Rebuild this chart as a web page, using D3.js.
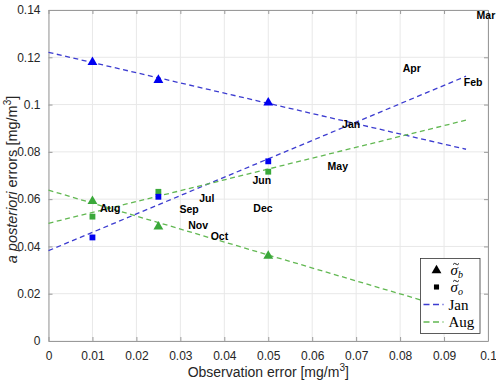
<!DOCTYPE html>
<html>
<head>
<meta charset="utf-8">
<script src="https://cdn.jsdelivr.net/npm/d3@7"></script>
<style>
  body { margin: 0; background: #fff; }
  svg { display: block; }
</style>
</head>
<body>
<svg></svg>
<script>
const width = 496,
      height = 381,
      margin = {top: 10, right: 8, bottom: 40, left: 48.5};

// observation errors used in the experiments
const obsErrors = [0.01, 0.025, 0.05];

// a posteriori errors
const janSigmaB = [0.1184, 0.1108, 0.1012];
const janSigmaO = [0.0438, 0.0610, 0.0760];
const augSigmaB = [0.0596, 0.0488, 0.0364];
const augSigmaO = [0.0526, 0.0631, 0.0716];

// dashed trend lines [x0, y0, x1, y1]
const janLineB = [0, 0.1221, 0.095, 0.0811];
const janLineO = [0, 0.0382, 0.095, 0.1120];
const augLineB = [0, 0.0638, 0.095, 0.0117];
const augLineO = [0, 0.0498, 0.095, 0.0934];

// month labels at (x, y)
const months = ['Mar', 'Apr', 'Feb', 'Jan', 'May', 'Jun', 'Dec', 'Jul', 'Sep', 'Aug', 'Nov', 'Oct'];
const monthX = [0.0974, 0.0806, 0.0945, 0.0668, 0.0635, 0.0464, 0.0466, 0.0343, 0.0298, 0.0117, 0.0318, 0.0369];
const monthY = [0.1379, 0.1153, 0.1092, 0.0917, 0.0737, 0.0681, 0.0561, 0.0603, 0.0557, 0.0562, 0.0490, 0.0441];

const xTicks = [0, 0.01, 0.02, 0.03, 0.04, 0.05, 0.06, 0.07, 0.08, 0.09, 0.1];
const yTicks = [0, 0.02, 0.04, 0.06, 0.08, 0.1, 0.12, 0.14];

const blue = '#0000f0', blueLine = '#3c3cd0',
      green = '#3aa83a', greenLine = '#62b852';

const svg = d3.select('svg')
  .attr('width', width)
  .attr('height', height);

const x = d3.scaleLinear().domain([0, 0.1]).range([margin.left, width - margin.right]);
const y = d3.scaleLinear().domain([0, 0.14]).range([height - margin.bottom, margin.top]);

const fmt = d => d === 0 ? '0' : String(+d.toFixed(3));

// grid
svg.append('g')
  .selectAll('line')
  .data(xTicks)
  .join('line')
  .attr('x1', d => x(d)).attr('x2', d => x(d))
  .attr('y1', y(0)).attr('y2', y(0.14))
  .attr('stroke', '#e8e8e8');

svg.append('g')
  .selectAll('line')
  .data(yTicks)
  .join('line')
  .attr('x1', x(0)).attr('x2', x(0.1))
  .attr('y1', d => y(d)).attr('y2', d => y(d))
  .attr('stroke', '#e8e8e8');

// axes with inner ticks, box on all sides
const axisStyle = g => {
  g.select('.domain').attr('stroke', '#9a9a9a');
  g.selectAll('.tick line').attr('stroke', '#9a9a9a');
  g.selectAll('.tick text')
    .attr('fill', '#262626')
    .style('font-family', 'Liberation Sans, Arial, sans-serif')
    .style('font-size', '12px');
};

svg.append('g')
  .attr('transform', `translate(0,${y(0)})`)
  .call(d3.axisBottom(x).tickValues(xTicks).tickFormat(fmt).tickSizeInner(-4).tickSizeOuter(0).tickPadding(10))
  .call(axisStyle);

svg.append('g')
  .attr('transform', `translate(0,${y(0.14)})`)
  .call(d3.axisTop(x).tickValues(xTicks).tickFormat('').tickSizeInner(-4).tickSizeOuter(0))
  .call(axisStyle);

svg.append('g')
  .attr('transform', `translate(${x(0)},0)`)
  .call(d3.axisLeft(y).tickValues(yTicks).tickFormat(fmt).tickSizeInner(-4).tickSizeOuter(0).tickPadding(8))
  .call(axisStyle);

svg.append('g')
  .attr('transform', `translate(${x(0.1)},0)`)
  .call(d3.axisRight(y).tickValues(yTicks).tickFormat('').tickSizeInner(-4).tickSizeOuter(0))
  .call(axisStyle);

// trend lines
const trends = [
  {l: janLineB, c: blueLine}, {l: janLineO, c: blueLine},
  {l: augLineB, c: greenLine}, {l: augLineO, c: greenLine}
];
svg.append('g')
  .selectAll('line')
  .data(trends)
  .join('line')
  .attr('x1', d => x(d.l[0])).attr('y1', d => y(d.l[1]))
  .attr('x2', d => x(d.l[2])).attr('y2', d => y(d.l[3]))
  .attr('stroke', d => d.c)
  .attr('stroke-width', 1.3)
  .attr('stroke-dasharray', '5,3.5');

// markers
const tri = d3.symbol().type(d3.symbolTriangle).size(42);
const sq = d3.symbol().type(d3.symbolSquare).size(34);

const markerSets = [
  {v: augSigmaB, c: green, s: tri}, {v: augSigmaO, c: green, s: sq},
  {v: janSigmaB, c: blue, s: tri}, {v: janSigmaO, c: blue, s: sq}
];
markerSets.forEach(m => {
  svg.append('g')
    .selectAll('path')
    .data(obsErrors)
    .join('path')
    .attr('d', m.s)
    .attr('transform', (d, i) => `translate(${x(d)},${y(m.v[i]) + (m.s === tri ? 1 : 0)})`)
    .attr('fill', m.c);
});

// month labels
svg.append('g')
  .selectAll('text')
  .data(months)
  .join('text')
  .attr('x', (d, i) => x(monthX[i]))
  .attr('y', (d, i) => y(monthY[i]))
  .attr('dy', '0.35em')
  .style('font-family', 'Liberation Sans, Arial, sans-serif')
  .style('font-size', '10.5px')
  .style('font-weight', 'bold')
  .attr('fill', '#000')
  .text(d => d);

// legend
const lg = svg.append('g').attr('transform', `translate(${x(0.1) - 67.5},${y(0) - 82.5})`);
lg.append('rect')
  .attr('width', 59.5).attr('height', 75)
  .attr('fill', '#fff')
  .attr('stroke', '#333').attr('stroke-width', 0.8);

const legendFont = 'Liberation Serif, DejaVu Serif, serif';
lg.append('path').attr('d', tri).attr('transform', 'translate(16,12)').attr('fill', '#000');
lg.append('path').attr('d', d3.symbol().type(d3.symbolSquare).size(26)).attr('transform', 'translate(16,28.5)').attr('fill', '#000');

const sig = (sub, yy) => {
  lg.append('text')
    .attr('x', 30).attr('y', yy)
    .style('font-family', legendFont)
    .style('font-size', '15px')
    .style('font-style', 'italic')
    .attr('fill', '#000')
    .text('σ')
    .append('tspan').attr('dy', 3).style('font-size', '10px').text(sub);
  // tilde accent drawn as a small curve
  lg.append('path')
    .attr('d', `M${32.5},${yy - 10} q1.5,-2 3,-0.5 t3,-0.5`)
    .attr('fill', 'none')
    .attr('stroke', '#000')
    .attr('stroke-width', 0.9);
};
sig('b', 16);
sig('o', 33);

[{c: blueLine, t: 'Jan', yy: 46}, {c: greenLine, t: 'Aug', yy: 63.5}].forEach(e => {
  lg.append('line')
    .attr('x1', 3).attr('x2', 23)
    .attr('y1', e.yy).attr('y2', e.yy)
    .attr('stroke', e.c).attr('stroke-width', 1.5)
    .attr('stroke-dasharray', '6,3.5');
  lg.append('text')
    .attr('x', 28).attr('y', e.yy + 5)
    .style('font-family', legendFont)
    .style('font-size', '15px')
    .attr('fill', '#000')
    .text(e.t);
});

// axis titles
const xl = svg.append('text')
  .attr('x', (x(0) + x(0.1)) / 2).attr('y', height - 4)
  .attr('text-anchor', 'middle')
  .style('font-family', 'Liberation Sans, Arial, sans-serif')
  .style('font-size', '14px')
  .attr('fill', '#262626');
xl.append('tspan').text('Observation error [mg/m');
xl.append('tspan').attr('dy', -6).style('font-size', '10px').text('3');
xl.append('tspan').attr('dy', 6).text(']');

const yl = svg.append('text')
  .attr('transform', `translate(17,${(y(0) + y(0.14)) / 2 + 4}) rotate(-90)`)
  .attr('text-anchor', 'middle')
  .style('font-family', 'Liberation Sans, Arial, sans-serif')
  .style('font-size', '14.5px')
  .attr('fill', '#262626');
yl.append('tspan').style('font-style', 'italic').text('a posteriori');
yl.append('tspan').text(' errors [mg/m');
yl.append('tspan').attr('dy', -6).style('font-size', '10px').text('3');
yl.append('tspan').attr('dy', 6).text(']');
</script>
</body>
</html>
